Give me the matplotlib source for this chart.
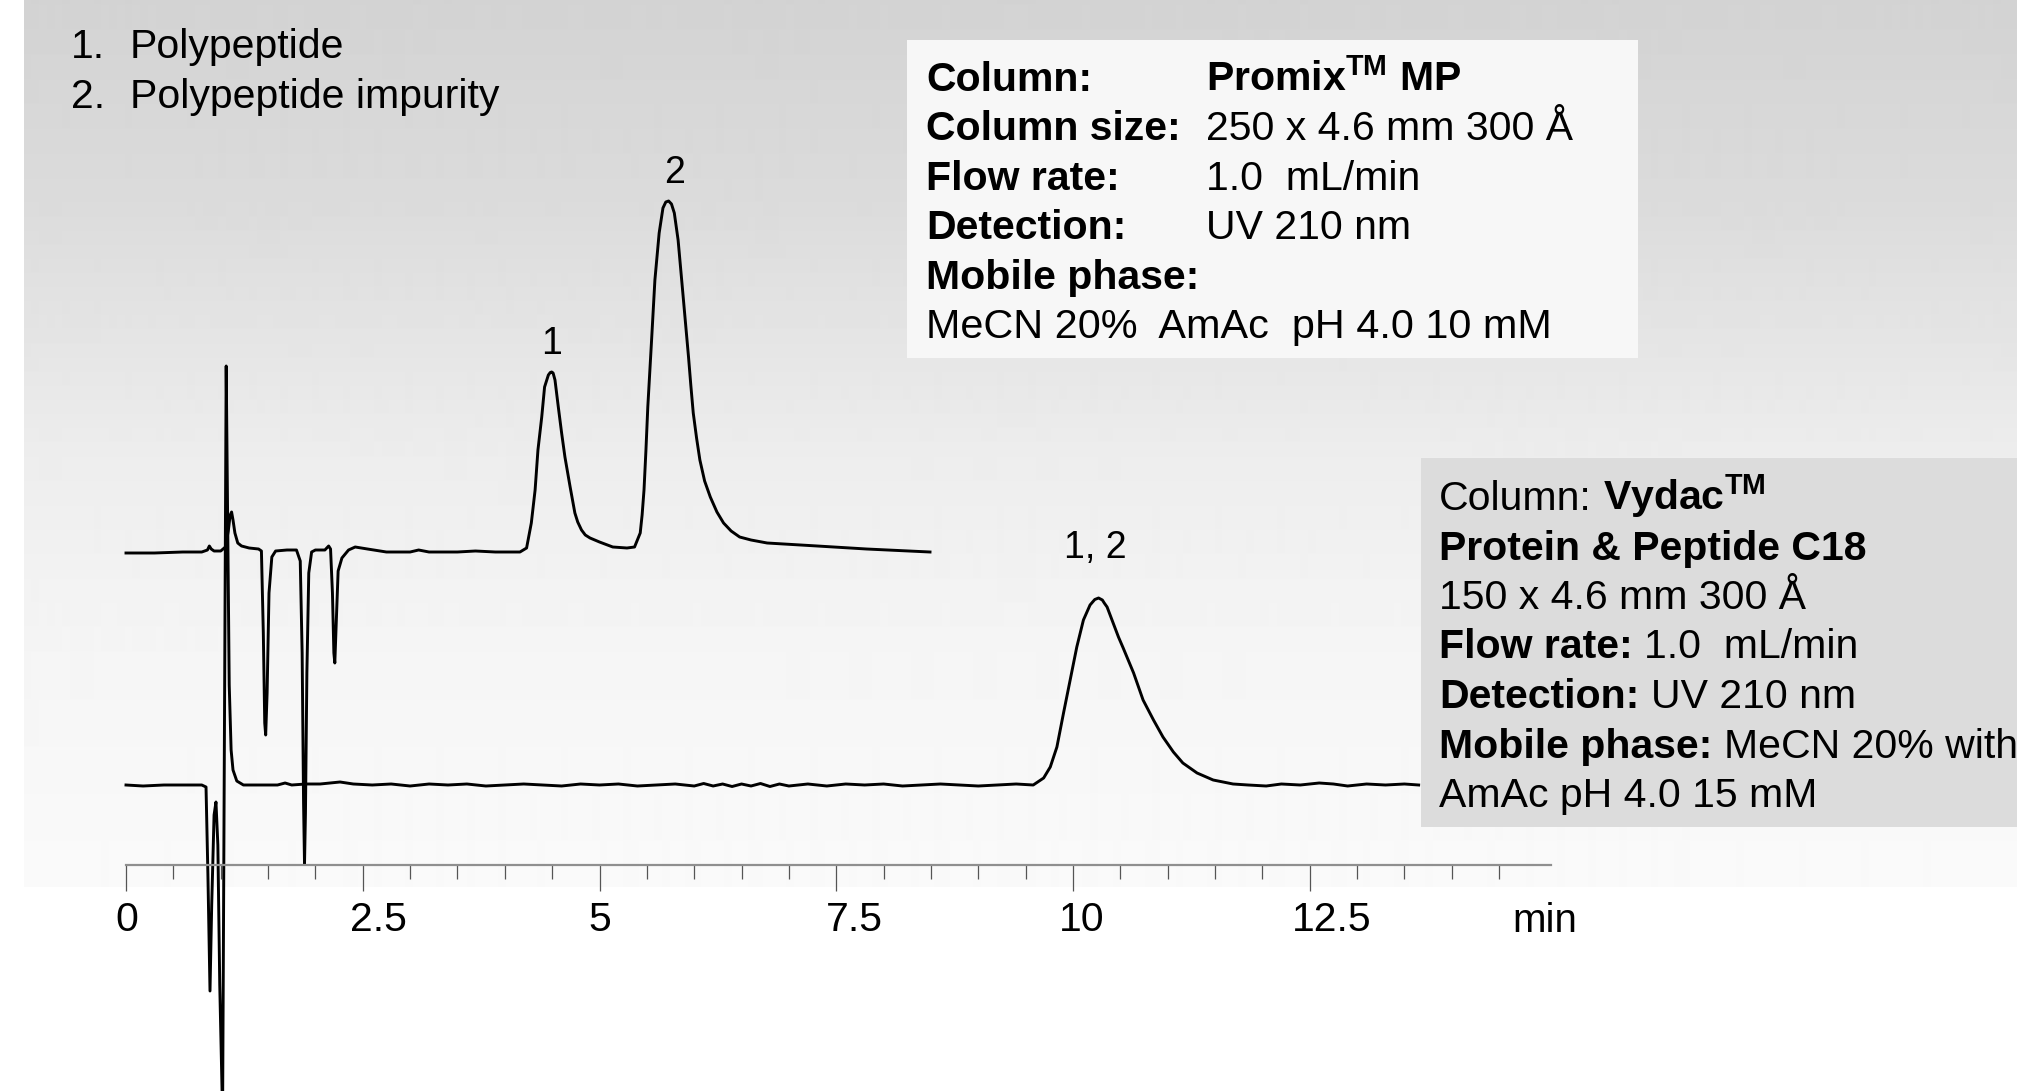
import numpy as np
import matplotlib
matplotlib.use("Agg")
import matplotlib.pyplot as plt
from matplotlib.patches import Rectangle

plt.rcParams['font.family'] = ['Liberation Sans', 'DejaVu Sans']
plt.rcParams['mathtext.fontset'] = 'custom'
plt.rcParams['mathtext.rm'] = 'Liberation Sans'
plt.rcParams['mathtext.bf'] = 'Liberation Sans:bold'

W, H = 2017, 1091

# Promix MP chromatogram: time [min], signal above its own baseline [mAU]
promix_t = [0.00, 0.30, 0.60, 0.80, 0.86, 0.88, 0.90, 0.93, 1.00, 1.05, 1.08, 1.10,
            1.115, 1.13, 1.15, 1.18, 1.22, 1.30, 1.40, 1.43, 1.45, 1.465, 1.475, 1.49,
            1.51, 1.54, 1.58, 1.70, 1.80, 1.84, 1.86, 1.875, 1.885, 1.895, 1.91, 1.93,
            1.96, 2.00, 2.10, 2.14, 2.16, 2.18, 2.195, 2.205, 2.22, 2.24, 2.28, 2.35,
            2.42, 2.55, 2.75, 3.00, 3.09, 3.20, 3.50, 3.69, 3.90, 4.10, 4.16, 4.23,
            4.28, 4.32, 4.35, 4.39, 4.42, 4.46, 4.48, 4.495, 4.51, 4.53, 4.565, 4.60,
            4.635, 4.69, 4.74, 4.77, 4.81, 4.85, 4.90, 5.00, 5.14, 5.29, 5.37, 5.43,
            5.45, 5.47, 5.49, 5.51, 5.55, 5.585, 5.63, 5.67, 5.70, 5.73, 5.76, 5.79,
            5.83, 5.88, 5.91, 5.94, 5.965, 5.99, 6.025, 6.06, 6.11, 6.17, 6.24, 6.31,
            6.39, 6.48, 6.60, 6.77, 7.30, 7.82, 8.49]
promix_v = [0, 0, 1, 1, 3, 7, 4, 2, 2, 6, 22, 38,
            41, 33, 20, 10, 7, 5, 4, 2, -80, -170, -182, -140,
            -40, -4, 2, 3, 3, -8, -100, -250, -311, -260, -120, -20,
            1, 3, 3, 7, 4, -40, -100, -110, -70, -18, -5, 3,
            6, 4, 1, 1, 3, 1, 1, 2, 1, 1, 1, 5,
            30, 63, 103, 136, 166, 178, 180.5, 181, 180, 173, 146, 120,
            96, 66, 40, 31, 23, 18, 15, 11, 6, 5, 6, 20,
            38, 63, 102, 146, 213, 273, 320, 345, 351, 352, 349, 340,
            313, 260, 228, 196, 167, 140, 115, 93, 72, 56, 41, 30,
            22, 16, 13, 10, 7, 4, 1]

# Vydac C18 chromatogram
vydac_t = [0.00, 0.18, 0.40, 0.80, 0.845, 0.865, 0.887, 0.905, 0.93, 0.95, 0.97, 0.99,
           1.02, 1.058, 1.075, 1.09, 1.11, 1.13, 1.17, 1.24, 1.40, 1.60, 1.68, 1.75,
           1.90, 2.05, 2.26, 2.40, 2.60, 2.80, 3.00, 3.20, 3.40, 3.60, 3.80, 4.00,
           4.20, 4.40, 4.60, 4.80, 5.00, 5.20, 5.40, 5.60, 5.80, 6.00, 6.10, 6.20,
           6.30, 6.40, 6.50, 6.60, 6.70, 6.80, 6.90, 7.00, 7.20, 7.40, 7.60, 7.80,
           8.00, 8.20, 8.40, 8.60, 8.80, 9.00, 9.20, 9.40, 9.58, 9.69, 9.76, 9.83,
           9.90, 9.97, 10.04, 10.11, 10.18, 10.23, 10.27, 10.31, 10.33, 10.36, 10.40, 10.44,
           10.48, 10.53, 10.64, 10.74, 10.85, 10.95, 11.06, 11.16, 11.31, 11.48, 11.69, 11.85,
           12.04, 12.20, 12.40, 12.60, 12.75, 12.90, 13.10, 13.30, 13.50, 13.65]
vydac_v = [0, -1, 0, 0, -2, -90, -206, -120, -30, -17, -60, -200,
           -330, 419, 250, 100, 35, 15, 4, 0, 0, 0, 2, 0,
           1, 1, 3, 1, 0, 1, -1, 1, 0, 1, -1, 0,
           1, 0, -1, 1, 0, 1, -1, 0, 1, -1, 1.5, -1,
           1, -1.5, 1, -1, 1.5, -1.5, 1, -1, 1, -1, 1, 0,
           1, -1, 0, 1, 0, -1, 0, 1, 0, 7, 18, 38,
           72, 105, 138, 165, 180, 185.5, 187, 185, 182, 178, 168, 158,
           148, 137, 112, 85, 65, 48, 33, 22, 12, 5, 1, 0,
           -1, 1, 0, 2, 1, -1, 1, 0, 1, 0]

# vertical placement of each trace above the time axis [mAU]
promix_offset = 312
vydac_offset = 80

major_ticks = [0, 2.5, 5, 7.5, 10, 12.5]
major_labels = ["0", "2.5", "5", "7.5", "10", "12.5"]
minor_ticks = [t for t in np.arange(0.5, 14.51, 0.5) if t % 2.5 != 0]
# the tick labels sit slightly right of some ticks (points)
label_shift = [0.7, 11, 0, 13, 6, 16]

legend_nums = ["1.", "2."]
legend_names = ["Polypeptide", "Polypeptide impurity"]

promix_rows = [("Column:", r"Promix$^{\mathbf{TM}}$ MP", "bold"),
               ("Column size:", "250 x 4.6 mm 300 Å", "normal"),
               ("Flow rate:", "1.0  mL/min", "normal"),
               ("Detection:", "UV 210 nm", "normal"),
               ("Mobile phase:", "", "normal")]
promix_last = "MeCN 20%  AmAc  pH 4.0 10 mM"

vydac_rows = [[("Column:", "normal"), (r"Vydac$^{\mathbf{TM}}$", "bold")],
              [("Protein & Peptide C18", "bold")],
              [("150 x 4.6 mm 300 Å", "normal")],
              [("Flow rate:", "bold"), ("1.0  mL/min", "normal")],
              [("Detection:", "bold"), ("UV 210 nm", "normal")],
              [("Mobile phase:", "bold"), ("MeCN 20% with", "normal")],
              [("AmAc pH 4.0 15 mM", "normal")]]

fig = plt.figure(figsize=(W / 100, H / 100), dpi=100)
fig.patch.set_facecolor("white")

# background panel with a soft vertical gray gradient
bg = fig.add_axes([0, 0, 1, 1])
bg.axis("off")
rows = np.arange(0, 887)
shade = np.interp(rows, [0, 200, 455, 650, 887], [211, 219, 237, 245, 250]) / 255
bg.imshow(shade[:, None], cmap="gray", vmin=0, vmax=1, aspect="auto",
          extent=(24, W, 887, 0), interpolation="bilinear")
bg.add_patch(Rectangle((907, 40), 731, 318, facecolor="#f7f7f7", edgecolor="none"))
bg.add_patch(Rectangle((1421, 458), 600, 369, facecolor="#dcdcdc", edgecolor="none"))
bg.set_xlim(0, W)
bg.set_ylim(H, 0)

# chromatogram axes: 1 mAU per pixel, t = 0 at x = 126 px, 94.7 px/min
ax = fig.add_axes([0, 0, 1, 1])
ax.set_facecolor("none")
ax.set_xlim(-126 / 94.7, (W - 126) / 94.7)
ax.set_ylim(-(H - 865), 865)

ax.plot(promix_t, np.array(promix_v) + promix_offset, color="black", lw=2.1,
        solid_joinstyle="round")
ax.plot(vydac_t, np.array(vydac_v) + vydac_offset, color="black", lw=2.1,
        solid_joinstyle="round")

for side in ["left", "right", "top"]:
    ax.spines[side].set_visible(False)
ax.spines["bottom"].set_position(("data", 0))
ax.spines["bottom"].set_bounds(0, 15.05)
ax.spines["bottom"].set_color("#8f8f8f")
ax.spines["bottom"].set_linewidth(1.6)
ax.set_yticks([])
ax.set_xticks(major_ticks)
ax.set_xticklabels([])
ax.set_xticks(minor_ticks, minor=True)
ax.tick_params(axis="x", which="major", direction="out", length=18.5, width=0.9,
               color="#555555")
ax.tick_params(axis="x", which="minor", direction="out", length=10, width=0.9,
               color="#555555")
for tk, lab, dx in zip(major_ticks, major_labels, label_shift):
    ax.annotate(lab, xy=(tk, 0), xytext=(dx, -26), textcoords="offset points",
                ha="center", va="top", fontsize=29.5)
fig.text(1545 / W, 1 - 932 / H, "min", fontsize=29, ha="center", va="baseline")

# peak labels above each apex
peaks = [("1", promix_t, promix_v, promix_offset, 4.3, 5.0, 0, 13),
         ("2", promix_t, promix_v, promix_offset, 5.4, 6.2, 4.5, 13),
         ("1, 2", vydac_t, vydac_v, vydac_offset, 9.5, 11.5, -2, 29)]
for label, tt, vv, off, lo, hi, dx, dy in peaks:
    tt = np.array(tt)
    vv = np.array(vv)
    win = (tt >= lo) & (tt <= hi)
    i = np.argmax(np.where(win, vv, -np.inf))
    ax.annotate(label, xy=(tt[i], vv[i] + off), xytext=(dx, dy),
                textcoords="offset points", ha="center", va="baseline", fontsize=27)


def ftext(x, y, s, **kw):
    return fig.text(x / W, 1 - y / H, s, va="baseline", **kw)


# compound list
for k, (num, name) in enumerate(zip(legend_nums, legend_names)):
    y = 58 + 50 * k
    ftext(71, y, num, fontsize=29.5)
    ftext(130, y, name, fontsize=29.5)

# Promix MP conditions
for k, (lab, val, w) in enumerate(promix_rows):
    y = 91 + 49.4 * k
    ftext(926, y, lab, fontsize=29.5, fontweight="bold")
    if val:
        ftext(1206, y, val, fontsize=29.5, fontweight=w)
ftext(926, 91 + 49.4 * 5, promix_last, fontsize=29.8)

# Vydac conditions, bold and regular runs joined on one baseline
renderer = fig.canvas.get_renderer()
for k, pieces in enumerate(vydac_rows):
    y = 510 + 49.5 * k
    x = 1439
    for s, w in pieces:
        t = ftext(x, y, s, fontsize=29.5, fontweight=w)
        x = t.get_window_extent(renderer).x1 + 11.5

fig.savefig("out.png", dpi=100)
